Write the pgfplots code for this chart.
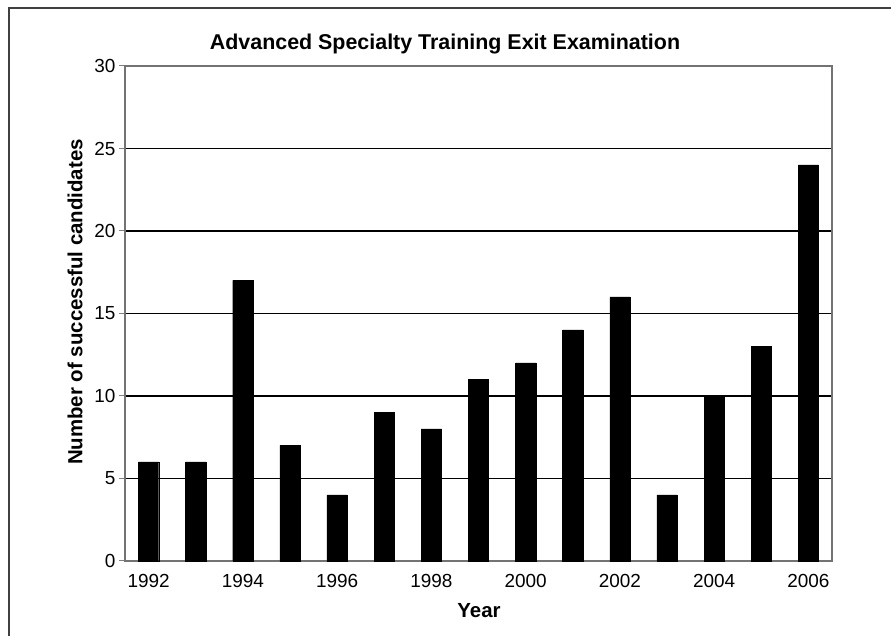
\documentclass[border=0pt]{standalone}
\usepackage{pgfplots}
\pgfplotsset{compat=1.18}
\usepackage{fontspec}
\setmainfont{Liberation Sans}
\begin{document}
\begin{tikzpicture}[x=1bp,y=1bp]
\useasboundingbox (0,0) rectangle (891,636);
\draw[line width=2.5bp, black!75] (9,-5) -- (9,628) -- (896,628);
\begin{axis}[
  at={(125bp,75bp)}, anchor=south west,
  scale only axis, width=707bp, height=495bp,
  xmin=-0.5, xmax=14.5, ymin=0, ymax=30,
  ytick={0,5,...,30},
  xtick={0,2,4,6,8,10,12,14},
  xticklabels={1992,1994,1996,1998,2000,2002,2004,2006},
  minor xtick={0.5,1.5,...,13.5},
  tick pos=left, tick align=outside,
  major tick length=6bp, minor tick length=6bp,
  xtick style={draw=none},
  ytick style={gray, line width=1bp},
  minor x tick style={gray, line width=1bp},
  ymajorgrids, grid style={black, line width=1.5bp},
  axis line style={gray!90!black, line width=1.4bp},
  /pgf/number format/assume math mode=true,
  ticklabel style={font=\fontsize{19}{22}\selectfont},
  xticklabel style={yshift=-4bp},
  clip=false,
]
\addplot[ybar, fill=black, draw=black, bar width=0.43] coordinates {
(0,6) (1,6) (2,17) (3,7) (4,4) (5,9) (6,8) (7,11) (8,12) (9,14) (10,16) (11,4) (12,10) (13,13) (14,24)
};
\end{axis}
\node[font=\fontsize{21.5}{25}\selectfont\bfseries] at (445,592) {Advanced Specialty Training Exit Examination};
\node[font=\fontsize{20.5}{24}\selectfont\bfseries, rotate=90] at (75,334) {Number of successful candidates};
\node[font=\fontsize{20.5}{24}\selectfont\bfseries] at (479,25) {Year};
\end{tikzpicture}
\end{document}
